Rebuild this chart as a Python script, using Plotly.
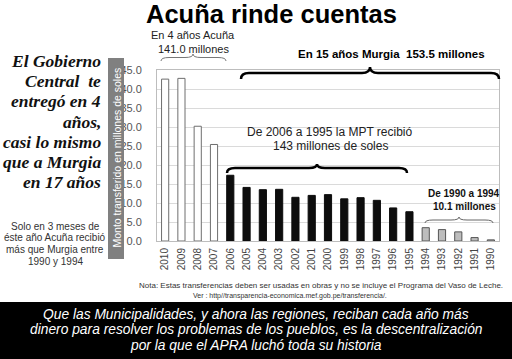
import plotly.graph_objects as go

# ---- data ----
years_acuna = ["2010", "2009", "2008", "2007"]
vals_acuna = [42.6, 42.8, 30.2, 25.4]
years_mpt = ["2006", "2005", "2004", "2003", "2002", "2001", "2000", "1999", "1998", "1997", "1996", "1995"]
vals_mpt = [17.3, 14.1, 13.5, 13.6, 11.5, 12.0, 12.2, 11.1, 11.4, 10.7, 8.7, 7.7]
years_early = ["1994", "1993", "1992", "1991", "1990"]
vals_early = [3.5, 3.0, 2.4, 0.9, 0.3]
y_ticks = [0, 5, 10, 15, 20, 25, 30, 35, 40, 45]

W, H = 512, 359
L, R, T, B = 157, 13, 70, 118
PW, PH = W - L - R, H - T - B


def px(x):
    return (x - L) / PW


def py(y):
    return (H - B - y) / PH


def brace(x0, x1, xc, yend, ybar, ypeak):
    r = min(8, (x1 - x0) / 8)
    pts = [
        f"M {px(x0)},{py(yend)}",
        f"Q {px(x0)},{py(ybar)} {px(x0 + r)},{py(ybar)}",
        f"L {px(xc - r)},{py(ybar)}",
        f"Q {px(xc)},{py(ybar)} {px(xc)},{py(ypeak)}",
        f"Q {px(xc)},{py(ybar)} {px(xc + r)},{py(ybar)}",
        f"L {px(x1 - r)},{py(ybar)}",
        f"Q {px(x1)},{py(ybar)} {px(x1)},{py(yend)}",
    ]
    return " ".join(pts)


years = years_acuna + years_mpt + years_early
vals = vals_acuna + vals_mpt + vals_early
fill = ["#ffffff"] * len(years_acuna) + ["#0d0d0d"] * len(years_mpt) + ["#bdbdbd"] * len(years_early)
edge = ["#6e6e6e"] * len(years_acuna) + ["#0d0d0d"] * len(years_mpt) + ["#555555"] * len(years_early)

fig = go.Figure(go.Bar(x=years, y=vals, marker=dict(color=fill, line=dict(color=edge, width=1)),
                       hoverinfo="x+y"))

FONT = "Liberation Sans, Arial, sans-serif"
SERIF = "Liberation Serif, Times New Roman, serif"

fig.update_layout(
    width=W, height=H,
    margin=dict(l=L, r=R, t=T, b=B),
    paper_bgcolor="white", plot_bgcolor="white",
    bargap=0.56, showlegend=False,
    font=dict(family=FONT, color="#444"),
    xaxis=dict(type="category", tickangle=-90, tickfont=dict(size=10, color="#444"),
               showline=True, linecolor="#bdbdbd", mirror=True, showgrid=False,
               ticks="", ticklabelstandoff=2),
    yaxis=dict(range=[0, 45], tickvals=y_ticks, tickformat=".1f",
               tickfont=dict(size=11, color="#555"), showgrid=True, gridcolor="#dadada",
               showline=True, linecolor="#bdbdbd", mirror=True, ticks="",
               ticklabelstandoff=12, zeroline=False),
)

shapes = []
# y-axis title box
shapes.append(dict(type="rect", xref="paper", yref="paper", x0=px(108), x1=px(124), y0=py(259), y1=py(58),
                   fillcolor="#808080", line=dict(width=0)))
# bottom black band
shapes.append(dict(type="rect", xref="paper", yref="paper", x0=px(0), x1=px(512), y0=py(359), y1=py(302),
                   fillcolor="#000000", line=dict(width=0)))
# braces
shapes.append(dict(type="path", xref="paper", yref="paper", path=brace(161, 226, 193, 61, 57.5, 54),
                   line=dict(color="#777", width=1)))
shapes.append(dict(type="path", xref="paper", yref="paper", path=brace(241, 499, 370, 79, 73, 67),
                   line=dict(color="#000", width=2.5)))
shapes.append(dict(type="path", xref="paper", yref="paper", path=brace(227, 407, 317, 173, 168, 164),
                   line=dict(color="#000", width=2.5)))
shapes.append(dict(type="path", xref="paper", yref="paper", path=brace(425, 493, 459, 223, 220, 217),
                   line=dict(color="#666", width=1)))
fig.update_layout(shapes=shapes)


def ann(text, x, y, size, color="#222", bold=False, italic=False, family=FONT, align="center",
        xanchor="center", angle=0):
    t = text
    if bold:
        t = f"<b>{t}</b>"
    if italic:
        t = f"<i>{t}</i>"
    fig.add_annotation(text=t, x=px(x), y=py(y), xref="paper", yref="paper", showarrow=False,
                       font=dict(size=size, color=color, family=family), align=align,
                       xanchor=xanchor, yanchor="middle", textangle=angle)


ann("Acuña rinde cuentas", 271, 14, 25.5, color="#000", bold=True)
ann("En 4 años Acuña", 193, 35, 11)
ann("141.0 millones", 193, 49.5, 11)
ann("En 15 años Murgia  153.5 millones", 391, 54, 11.5, color="#000", bold=True)
ann("De 2006 a 1995 la MPT recibió", 330, 132, 12)
ann("143 millones de soles", 330, 145.5, 12)
ann("De 1990 a 1994", 464, 193, 10, color="#111", bold=True)
ann("10.1 millones", 464, 206, 10, color="#111", bold=True)

left_lines = ["El Gobierno", "Central  te", "entregó en 4", "años,", "casi lo mismo", "que a Murgia", "en 17 años"]
for i, line in enumerate(left_lines):
    ann(line, 103, 61 + 20.2 * i, 17.5, color="#111", bold=True, italic=True, family=SERIF,
        align="right", xanchor="right")

solo_lines = ["Solo en 3 meses de", "éste año Acuña recibió", "más que Murgia entre", "1990 y 1994"]
for i, line in enumerate(solo_lines):
    ann(line, 55, 226 + 11.8 * i, 10, color="#333")

ann("Monto transferido en millones de soles", 116.5, 158, 10.5, color="#ffffff", angle=-90)

ann("Nota: Estas transferencias deben ser usadas en obras y no se incluye el Programa del Vaso de Leche.",
    321, 285, 8, color="#333")
ann("Ver : http//transparencia-economica.mef.gob.pe/transferencia/.", 290, 295.5, 7, color="#333")

bottom_lines = ["Que las Municipalidades, y ahora las regiones, reciban cada año más",
                "dinero para resolver los problemas de los pueblos, es la descentralización",
                "por la que el APRA luchó toda su historia"]
for i, line in enumerate(bottom_lines):
    ann(line, 256, 314 + 15.8 * i, 13.8, color="#ffffff", italic=True)

fig.write_html("out.html", config={"displayModeBar": False},
               post_script="document.body.style.margin='0';")
